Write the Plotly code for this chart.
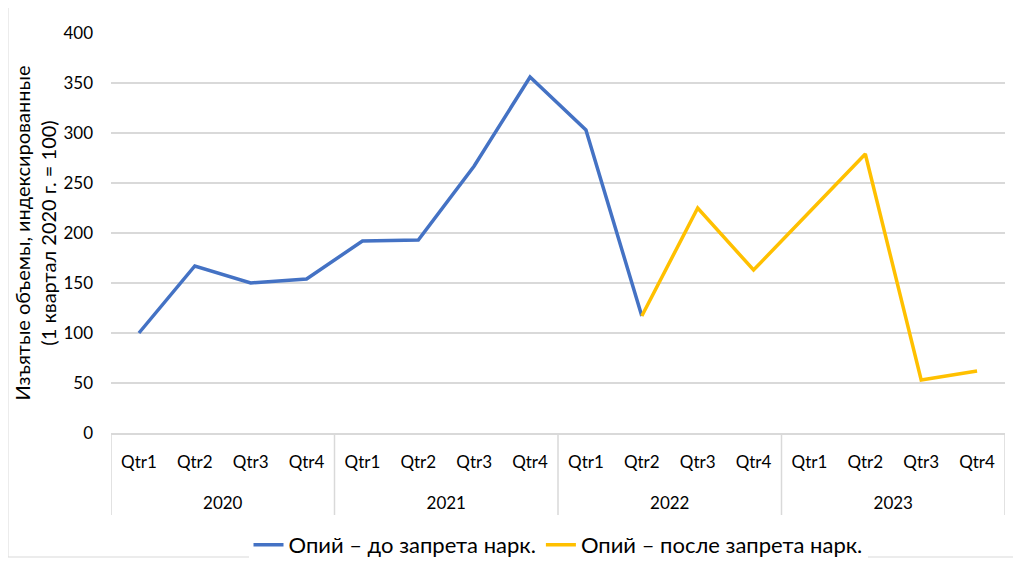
import plotly.graph_objects as go

years = ["2020", "2021", "2022", "2023"]
quarters = ["Qtr1", "Qtr2", "Qtr3", "Qtr4"] * 4

# индекс изъятий, 1 кв. 2020 = 100
before_ban = [100, 167, 150, 154, 192, 193, 267, 356, 303, 117,
              None, None, None, None, None, None]
after_ban = [None, None, None, None, None, None, None, None, None, 117,
             225, 163, 221, 279, 53, 62]

FONT = "Lato, Noto Sans, sans-serif"
GRID = "#d9d9d9"

xpos = list(range(len(quarters)))
year_pos = [4 * i + 1.5 for i in range(len(years))]
XR = [-0.5, len(quarters) - 0.5]

fig = go.Figure()

fig.add_trace(go.Scatter(
    x=xpos, y=before_ban,
    mode="lines", name="Опий – до запрета нарк.",
    line=dict(color="#4472C4", width=3.5),
))
fig.add_trace(go.Scatter(
    x=xpos, y=after_ban,
    mode="lines", name="Опий – после запрета нарк.",
    line=dict(color="#FFC000", width=3.5),
))

# page body has 8px margin, so figure is 8px smaller than the window
# plot area 25..507 px in figure; y-axis domain ends at 425 px
YLOW = 82 / 482

fig.update_layout(
    width=1013, height=553,
    paper_bgcolor="white", plot_bgcolor="white",
    font=dict(family=FONT, size=17, color="#000000"),
    margin=dict(l=103, r=16, t=25, b=46, autoexpand=False),
    legend=dict(orientation="h", x=0.5, xanchor="center", y=-30 / 482, yanchor="middle",
                font=dict(size=22)),
    showlegend=True,
    xaxis=dict(
        range=XR, tickmode="array", tickvals=xpos, ticktext=quarters,
        showline=True, linecolor=GRID, linewidth=1.5,
        showgrid=False, zeroline=False, ticks="", ticklabelstandoff=13,
    ),
    xaxis2=dict(
        range=XR, overlaying="x", anchor="free", position=24 / 482, side="bottom",
        tickmode="array", tickvals=year_pos, ticktext=years,
        showline=False, showgrid=False, zeroline=False, ticks="",
    ),
    yaxis=dict(
        domain=[YLOW, 1], range=[0, 400], dtick=50,
        showgrid=True, gridcolor=GRID, gridwidth=1.5,
        zeroline=False, ticks="", ticklabelstandoff=17,
        title=dict(text="Изъятые объемы, индексированные<br>(1 квартал 2020 г. = 100)",
                   font=dict(size=20), standoff=1),
    ),
)

# пустой след для второй оси лет
fig.add_trace(go.Scatter(x=[XR[0]], y=[None], xaxis="x2", showlegend=False, hoverinfo="skip"))

# разделители годов
for b in [-0.5, 3.5, 7.5, 11.5, 15.5]:
    fig.add_shape(type="line", xref="x", yref="paper", x0=b, x1=b, y0=0, y1=YLOW,
                  line=dict(color=GRID, width=1.5))

# рамка вокруг диаграммы
fig.add_shape(type="rect", xref="paper", yref="paper",
              x0=-103 / 894, x1=1.1, y0=-42 / 482, y1=1.2,
              line=dict(color=GRID, width=1))

fig.write_html("out.html")
